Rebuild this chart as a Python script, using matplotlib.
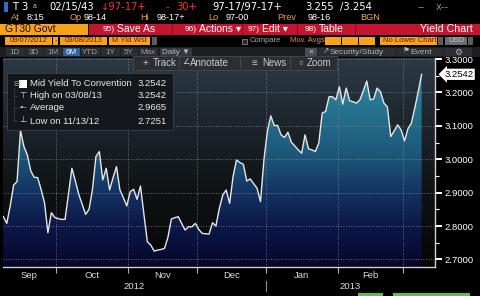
import numpy as np
import pandas as pd
import matplotlib
matplotlib.use('Agg')
import matplotlib.pyplot as plt
import matplotlib.transforms as mtransforms
from matplotlib.colors import LinearSegmentedColormap
from matplotlib.patches import Rectangle, Polygon

plt.rcParams['font.family'] = ['Liberation Sans', 'DejaVu Sans']

# ---- data: GT30 mid yield, bond-market trading days 09/07/2012 - 03/08/2013 ----
holidays = ['2012-10-08', '2012-10-30', '2012-11-12', '2012-11-22',
            '2012-12-25', '2013-01-01', '2013-01-21', '2013-02-18']
dates = pd.bdate_range('2012-09-07', '2013-03-08').drop(pd.to_datetime(holidays))

yields = [2.828, 2.808, 2.860, 2.923, 2.933, 3.086, 3.038, 3.013, 2.965, 2.946,
          2.945, 2.910, 2.870, 2.780, 2.840, 2.826, 2.822, 2.820, 2.820, 2.896,
          2.973, 2.935, 2.895, 2.865, 2.835, 2.850, 2.910, 3.008, 3.023, 2.938,
          2.973, 2.908, 2.945, 2.978, 2.908, 2.885, 2.860, 2.903, 2.910, 2.880,
          2.920, 2.835, 2.753, 2.743, 2.7251, 2.728, 2.730, 2.733, 2.766, 2.821,
          2.825, 2.828, 2.808, 2.788, 2.798, 2.798, 2.808, 2.790, 2.778, 2.777,
          2.776, 2.810, 2.800, 2.853, 2.893, 2.908, 2.868, 2.948, 2.998, 2.990,
          2.985, 2.935, 2.941, 2.927, 2.913, 2.873, 2.998, 3.083, 3.130, 3.101,
          3.101, 3.073, 3.065, 3.081, 3.051, 3.040, 3.028, 3.018, 3.073, 3.031,
          3.028, 3.023, 3.048, 3.138, 3.143, 3.187, 3.187, 3.178, 3.217, 3.165,
          3.213, 3.175, 3.172, 3.168, 3.178, 3.205, 3.234, 3.178, 3.180, 3.213,
          3.202, 3.168, 3.157, 3.068, 3.085, 3.103, 3.088, 3.055, 3.091, 3.108,
          3.153, 3.202, 3.2542]

y_ticks = [2.7, 2.8, 2.9, 3.0, 3.1, 3.2, 3.3]
legend_labels = ['Mid Yield To Convention', 'High on 03/08/13', 'Average', 'Low on 11/13/12']
legend_values = ['3.2542', '3.2542', '2.9665', '2.7251']

# header lines of the terminal screen
row1 = [('T', 12, 'white'), ('3', 21, 'white'), ('02/15/43', 49, 'white'),
        ('\u219397-17+', 101, '#ff3030'), ('-', 166, '#ff3030'), ('30+', 176, '#ff3030'),
        ('97-17', 212, 'white'), ('/97-17+', 241, 'white'),
        ('3.255', 305, 'white'), ('/3.254', 340, 'white'),
        ('--', 418, '#8a8a8a'), ('x--', 436, '#8a8a8a')]
row2 = [('At', 11, '#f0a030'), ('8:15', 27, 'white'), ('Op', 70, '#f0a030'),
        ('98-14', 84, 'white'), ('Hi', 140, '#f0a030'), ('98-17+', 157, 'white'),
        ('Lo', 208, '#f0a030'), ('97-00', 226, 'white'), ('Prev', 277, '#f0a030'),
        ('98-16', 308, 'white'), ('BGN', 360, '#f5b040')]
menu = [('95)', 'Save As', 103), ('96)', 'Actions \u25be', 185),
        ('97)', 'Edit \u25be', 248), ('98)', 'Table', 305)]
periods = ['1D', '3D', '1M', '6M', 'YTD', '1Y', '5Y', 'Max']

W, H = 480, 296
fig = plt.figure(figsize=(4.8, 2.96), dpi=100, facecolor='black')


def box(x0, y0, x1, y1, fc, ec='none', lw=0, z=2):
    fig.add_artist(Rectangle((x0 / W, 1 - y1 / H), (x1 - x0) / W, (y1 - y0) / H,
                             transform=fig.transFigure, fc=fc, ec=ec, lw=lw, zorder=z))


def label(x, y, s, color='white', size=7, ha='left', z=6, **kw):
    fig.text(x / W, 1 - y / H, s, color=color, fontsize=size, ha=ha, va='center',
             zorder=z, **kw)


# ---- header ----
box(4, 2, 8, 12, '#2b6fd6')
label(33, 7, 'a', '#c0c0c0', 5)
for s, x, c in row1:
    label(x, 7, s, c, 7.2, family=['DejaVu Sans'])
for s, x, c in row2:
    label(x, 18, s, c, 6.6)

box(0, 24, 88, 35, '#f7a21b')
label(5, 29.5, 'GT30 Govt', '#1a0800', 7.5)
box(89, 24, 480, 35, '#c5142f')
for xs in [172, 242, 297, 355]:
    box(xs, 24, xs + 1, 35, '#8c0a1f', z=3)
for num, txt, x in menu:
    label(x, 29.5, num, 'white', 6)
    label(x + 14, 29.5, txt, 'white', 7.5)
label(473, 29.5, 'Yield Chart', 'white', 7.7, ha='right')

box(5, 37, 52, 45, '#f7a21b')
label(28.5, 41, '09/07/2012', '#6a1c00', 5.5, ha='center')
box(53, 37, 58, 45, '#f7a21b')
label(55.5, 41, '-', '#6a1c00', 5.5, ha='center')
box(60, 37, 107, 45, '#f7a21b')
label(83.5, 41, '03/08/2013', '#6a1c00', 5.5, ha='center')
box(109, 37, 150, 45, '#f7a21b')
label(112, 41, 'M Yld Wst', '#6a1c00', 5.5)
box(152, 37, 157, 45, '#5a5e63')
box(242, 38.5, 247, 43.5, '#2a2a2a', ec='#9a9a9a', lw=0.5)
label(250, 41, 'Compare', '#a8a8a8', 5.5)
label(290, 41, 'Mov. Avgs', '#e09a20', 5.5)
for xs in [325, 342, 359]:
    box(xs, 37, xs + 16, 45, '#f7a21b')
box(380, 37, 437, 45, '#f7a21b')
label(383, 41, 'No Lower Chart', '#6a1c00', 5.5)
box(438, 37, 443, 45, '#5a5e63')
box(445, 37, 467, 45, '#6a6e73')
label(456, 41, 'USD', '#c8c8c8', 5.5, ha='center')
box(468, 37, 473, 45, '#5a5e63')

box(0, 47, 480, 57, '#1d2023')
px = [5, 25, 43, 62, 80, 100, 120, 138, 158]
for p, a, b in zip(periods, px[:-1], px[1:]):
    box(a + 0.5, 48, b - 0.5, 56, '#2f5f9c' if p == '6M' else '#2a2d31')
    label((a + b) / 2, 52, p, 'white' if p == '6M' else '#9aa2aa', 5.8, ha='center')
box(160, 48, 192, 56, '#34383d')
label(176, 52, 'Daily \u25bc', '#b0b8c0', 5.8, ha='center')
box(305, 48, 317, 56, '#4a4f55')
label(311, 52, '\u00d7', '#d0d0d0', 6, ha='center')
box(318, 48, 396, 56, '#2a2d31')
label(323, 52, '\u2197', '#b0b8c0', 5.5)
label(330, 52, 'Security/Study', '#b0b8c0', 6)
box(397, 48, 443, 56, '#2a2d31')
label(403, 52, '\u2691', '#b0b8c0', 5.5)
label(410, 52, 'Event', '#b0b8c0', 6)
box(444, 48, 472, 56, '#2a2d31')
label(458, 52, '\u2699', '#b0b8c0', 6.5, ha='center')

# ---- chart ----
ax = fig.add_axes([3 / W, 1 - 267 / H, 432 / W, 209 / H])
ax.set_facecolor('black')
x = np.arange(len(yields))
xlim = (-0.1, 125.9)
ylim = (2.6775, 3.303)

bg_cmap = LinearSegmentedColormap.from_list(
    'bg', [(0, '#050505'), (0.35, '#0f1214'), (0.67, '#1c242b'), (1, '#2c3a46')])
fill_cmap = LinearSegmentedColormap.from_list(
    'fill', [(0, '#06062a'), (0.196, '#0c1848'), (0.356, '#133262'),
             (0.516, '#1b5478'), (0.835, '#2a7d98'), (1, '#3393ab')])
grad = np.linspace(0, 1, 256).reshape(-1, 1)
ext = [xlim[0], xlim[1], ylim[0], ylim[1]]
ax.imshow(grad, extent=ext, origin='lower', aspect='auto', cmap=bg_cmap, zorder=0)
fill_im = ax.imshow(grad, extent=ext, origin='lower', aspect='auto', cmap=fill_cmap, zorder=1)
verts = np.vstack([[x[0], ylim[0]], np.column_stack([x, yields]), [x[-1], ylim[0]]])
clip = Polygon(verts, closed=True, transform=ax.transData, fc='none', ec='none')
ax.add_patch(clip)
fill_im.set_clip_path(clip)
ax.plot(x, yields, color='#e6e6e6', lw=1.0, zorder=4)
ax.set_xlim(*xlim)
ax.set_ylim(*ylim)

# month boundaries and labels
months = dates.to_period('M')
starts = [i for i in range(1, len(dates)) if months[i] != months[i - 1]]
bounds = [i - 0.5 for i in starts]
edges = [-0.5] + bounds + [len(dates) - 0.5]
centers, names = [], []
for a, b, i0 in zip(edges[:-1], edges[1:], [0] + starts):
    if b - a >= 10:
        centers.append((a + b) / 2)
        names.append(dates[i0].strftime('%b'))
ax.set_xticks(bounds)
ax.set_xticklabels([])
ax.set_xticks(centers, minor=True)
ax.set_xticklabels(names, minor=True)
ax.tick_params(axis='x', which='major', length=4, width=0.8, color='#b0b0b0', direction='out')
ax.tick_params(axis='x', which='minor', length=0, pad=3, labelcolor='#dcdcdc', labelsize=6.8)

ax.yaxis.tick_right()
ax.set_yticks(y_ticks)
ax.set_yticklabels([f'{v:.4f}' for v in y_ticks])
ax.set_yticks([v + 0.05 for v in y_ticks[:-1]], minor=True)
ax.tick_params(axis='y', which='major', length=5, width=1.4, color='white',
               labelcolor='white', labelsize=6.8, pad=2)
ax.tick_params(axis='y', which='minor', length=3, width=0.8, color='white')

ax.grid(True, which='major', color='#8a8a8a', ls=(0, (1, 2)), lw=0.6)
for side in ['left', 'top']:
    ax.spines[side].set_visible(False)
for side in ['right', 'bottom']:
    ax.spines[side].set_color('#d0d0d0')
    ax.spines[side].set_linewidth(1)

# year labels
year_change = [b for b, i in zip(bounds, starts) if dates[i].year != dates[i - 1].year][0]
tx = mtransforms.blended_transform_factory(ax.transData, ax.transAxes)
ax.plot([year_change, year_change], [-0.067, -0.115], transform=tx, color='#909090',
        lw=0.8, clip_on=False)
ax.text((xlim[0] + year_change) / 2, -0.092, str(dates[0].year), transform=tx,
        ha='center', va='center', color='#dcdcdc', fontsize=6.8)
ax.text((year_change + xlim[1]) / 2, -0.092, str(dates[-1].year), transform=tx,
        ha='center', va='center', color='#dcdcdc', fontsize=6.8)

# last value marker
ty = mtransforms.blended_transform_factory(ax.transAxes, ax.transData)
ax.text(1.022, yields[-1], f'{yields[-1]:.4f}', transform=ty, ha='left', va='center',
        fontsize=6.8, color='black', zorder=10, clip_on=False,
        bbox=dict(boxstyle='larrow,pad=0.12', fc='white', ec='none'))

# ---- overlays: toolbar and legend ----
box(133, 56, 337, 70, '#2b2f34', ec='#454a50', lw=0.6, z=5)
for xs in [179, 240, 290]:
    box(xs, 57, xs + 0.8, 69, '#454a50', z=5)
label(143, 63, '+', '#c8ccd0', 7)
label(153, 63, 'Track', '#c8ccd0', 7)
label(182, 63, '\u2220', '#c8ccd0', 6)
label(190, 63, 'Annotate', '#c8ccd0', 7)
label(251, 63, '\u2261', '#c8ccd0', 7)
label(262, 63, 'News', '#c8ccd0', 7)
label(298, 63, '\u25cb', '#c8ccd0', 5.5)
label(307, 63, 'Zoom', '#c8ccd0', 7)

box(7, 73, 173, 130, '#14181c', ec='#3c4248', lw=0.6, z=5)
row_y = [84, 96, 108, 121]
icons = [None, '\u22a4', '-\u2022-', '\u22a5']
label(13, 84, '\u229f', '#9a9a9a', 6)
fig.add_artist(plt.Line2D([13.5 / W, 13.5 / W], [1 - 88 / H, 1 - 121 / H],
                          transform=fig.transFigure, color='#6a6a6a', lw=0.6,
                          ls=(0, (1, 1.5)), zorder=6))
box(19, 80, 27, 88, 'white', z=6)
for yy, ic, name, val in zip(row_y, icons, legend_labels, legend_values):
    if ic is not None:
        fig.add_artist(plt.Line2D([13.5 / W, 17 / W], [1 - yy / H, 1 - yy / H],
                                  transform=fig.transFigure, color='#6a6a6a', lw=0.6,
                                  ls=(0, (1, 1.5)), zorder=6))
        label(23, yy, ic, '#e0e0e0', 6, ha='center')
    label(30, yy, name, '#e8e8e8', 6.8)
    label(167, yy, val, '#e8e8e8', 6.8, ha='right')

box(358, 293, 383, 296, '#5cc040')
box(393, 293, 470, 296, '#5cc040')

fig.savefig('out.png', dpi=100, facecolor='black')
